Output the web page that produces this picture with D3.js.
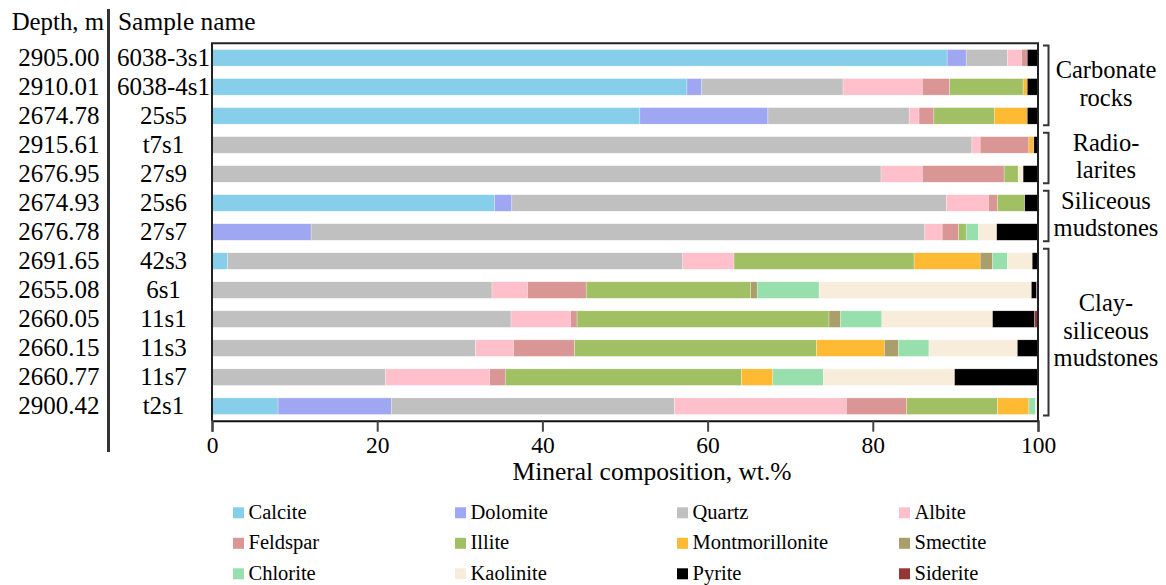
<!DOCTYPE html>
<html>
<head>
<meta charset="utf-8">
<script src="https://cdn.jsdelivr.net/npm/d3@7"></script>
<style>
  html, body { margin: 0; padding: 0; background: #fff; }
  svg { display: block; }
  svg text { font-family: "Liberation Serif", "Times New Roman", serif; fill: #000; }
</style>
</head>
<body>
<svg id="chart" width="1166" height="585"></svg>
<script>
// Samples, top to bottom
const samples = ["6038-3s1", "6038-4s1", "25s5", "t7s1", "27s9", "25s6", "27s7",
                 "42s3", "6s1", "11s1", "11s3", "11s7", "t2s1"];
const depths = ["2905.00", "2910.01", "2674.78", "2915.61", "2676.95", "2674.93", "2676.78",
                "2691.65", "2655.08", "2660.05", "2660.15", "2660.77", "2900.42"];

// Mineral composition, wt.% (one value per sample, same order as above)
const calcite         = [89.0, 57.5, 51.8, 0, 0, 34.2, 0, 1.9, 0, 0, 0, 0, 8.0];
const dolomite        = [2.3, 1.8, 15.5, 0, 0, 2.1, 12.0, 0, 0, 0, 0, 0, 13.7];
const quartz          = [5.0, 17.1, 17.1, 92.0, 81.0, 52.6, 74.3, 55.1, 33.9, 36.2, 31.9, 21.0, 34.3];
const albite          = [1.7, 9.6, 1.2, 1.0, 5.0, 5.1, 2.1, 6.2, 4.3, 7.2, 4.6, 12.6, 20.8];
const feldspar        = [0.7, 3.3, 1.8, 5.9, 9.9, 1.1, 2.0, 0, 7.1, 0.8, 7.4, 1.9, 7.3];
const illite          = [0, 8.9, 7.3, 0, 1.7, 3.3, 0.9, 21.8, 19.9, 30.5, 29.3, 28.6, 11.0];
const montmorillonite = [0, 0.5, 4.0, 0.6, 0, 0, 0, 8.0, 0, 0, 8.2, 3.8, 3.8];
const smectite        = [0, 0, 0, 0, 0, 0, 0, 1.5, 0.8, 1.4, 1.7, 0, 0];
const chlorite        = [0, 0, 0, 0, 0, 0, 1.5, 1.8, 7.5, 5.0, 3.7, 6.1, 0.8];
const kaolinite       = [0, 0, 0, 0, 0.6, 0, 2.2, 3.0, 25.7, 13.4, 10.7, 15.9, 0.3];
const pyrite          = [1.3, 1.3, 1.3, 0.5, 1.8, 1.6, 5.0, 0.7, 0.6, 5.1, 2.5, 10.1, 0];
const siderite        = [0, 0, 0, 0, 0, 0, 0, 0, 0.2, 0.4, 0, 0, 0];

const minerals = ["Calcite", "Dolomite", "Quartz", "Albite", "Feldspar", "Illite",
                  "Montmorillonite", "Smectite", "Chlorite", "Kaolinite", "Pyrite", "Siderite"];
const mineralValues = [calcite, dolomite, quartz, albite, feldspar, illite,
                       montmorillonite, smectite, chlorite, kaolinite, pyrite, siderite];
const mineralColors = ["#87ceeb", "#9fa6f2", "#c0c0c0", "#ffc0cb", "#da9694", "#a1c064",
                       "#ffba33", "#aa9e6b", "#98dfae", "#f8eddb", "#000000", "#943634"];

// Rock groups: label lines, first and last sample index
const groupLabels = [["Carbonate", "rocks"], ["Radio-", "larites"], ["Siliceous", "mudstones"],
                     ["Clay-", "siliceous", "mudstones"]];
const groupStart = [0, 3, 5, 7];
const groupEnd   = [2, 4, 6, 12];

const xTicks = [0, 20, 40, 60, 80, 100];

// ---- table for d3.stack ----
const table = samples.map((s, i) => {
  const row = { sample: s };
  minerals.forEach((m, k) => { row[m] = mineralValues[k][i]; });
  return row;
});
const series = d3.stack().keys(minerals)(table);

// ---- layout ----
const svg = d3.select("#chart");
const plotL = 212, plotR = 1038, plotT = 43.3, plotB = 420.7;

const x = d3.scaleLinear().domain([0, 100]).range([plotL, plotR]);
const y = d3.scaleBand().domain(samples).range([plotT, plotB]).paddingInner(0.43).paddingOuter(0.215);
const color = d3.scaleOrdinal().domain(minerals).range(mineralColors);

// bars
svg.append("g")
  .selectAll("g")
  .data(series)
  .join("g")
  .attr("fill", d => color(d.key))
  .selectAll("rect")
  .data(d => d.filter(p => p[1] - p[0] > 0))
  .join("rect")
  .attr("x", d => x(d[0]))
  .attr("y", d => y(d.data.sample))
  .attr("width", d => x(d[1]) - x(d[0]))
  .attr("height", y.bandwidth())
  .attr("stroke", "#ffffff")
  .attr("stroke-opacity", 0.55)
  .attr("stroke-width", 0.5);

// frame: top, left and right borders
svg.append("path")
  .attr("d", `M${plotL},${plotB} V${plotT} H${plotR} V${plotB}`)
  .attr("fill", "none")
  .attr("stroke", "#222")
  .attr("stroke-width", 2);

// x axis
const xAxis = svg.append("g")
  .attr("transform", `translate(0,${plotB})`)
  .call(d3.axisBottom(x).tickValues(xTicks).tickSize(11).tickPadding(5).tickFormat(d3.format("d")));
xAxis.select(".domain").attr("stroke", "#111").attr("stroke-width", 2);
xAxis.selectAll(".tick line").attr("stroke", "#444").attr("stroke-width", 2);
xAxis.selectAll(".tick text").style("font-size", "23.5px");

svg.append("text")
  .attr("x", 652)
  .attr("y", 480)
  .attr("text-anchor", "middle")
  .style("font-size", "25.5px")
  .text("Mineral composition, wt.%");

// left columns: headers, separator, depth and sample labels
svg.append("text").attr("x", 104).attr("y", 30).attr("text-anchor", "end")
  .style("font-size", "24.8px").text("Depth, m");
svg.append("text").attr("x", 118).attr("y", 30).attr("text-anchor", "start")
  .style("font-size", "25.4px").text("Sample name");
svg.append("line")
  .attr("x1", 108.5).attr("x2", 108.5).attr("y1", 9).attr("y2", 452)
  .attr("stroke", "#333").attr("stroke-width", 3);

svg.append("g").selectAll("text")
  .data(samples)
  .join("text")
  .attr("x", 99.5)
  .attr("y", d => y(d) + y.bandwidth() / 2 + 8)
  .attr("text-anchor", "end")
  .style("font-size", "25px")
  .text((d, i) => depths[i]);

svg.append("g").selectAll("text")
  .data(samples)
  .join("text")
  .attr("x", 163.5)
  .attr("y", d => y(d) + y.bandwidth() / 2 + 8)
  .attr("text-anchor", "middle")
  .style("font-size", "25px")
  .text(d => d);

// group brackets and labels on the right
const brX = 1048.5, brTick = 5.5, lineH = 27.5;
groupLabels.forEach((lines, g) => {
  const top = y(samples[groupStart[g]]) - 4;
  const bot = y(samples[groupEnd[g]]) + y.bandwidth() + 1;
  svg.append("path")
    .attr("d", `M${brX - brTick},${top} H${brX} V${bot} H${brX - brTick}`)
    .attr("fill", "none")
    .attr("stroke", "#333")
    .attr("stroke-width", 2);
  const mid = (top + bot) / 2;
  svg.append("g").selectAll("text")
    .data(lines)
    .join("text")
    .attr("x", 1106)
    .attr("y", (d, i) => mid - (lines.length - 1) / 2 * lineH + i * lineH + 6.5)
    .attr("text-anchor", "middle")
    .style("font-size", "24.5px")
    .text(d => d);
});

// legend: 4 columns x 3 rows
const legend = svg.append("g");
minerals.forEach((m, k) => {
  const col = k % 4, row = Math.floor(k / 4);
  const lx = 233 + col * 222, ly = 507.3 + row * 30.5;
  legend.append("rect")
    .attr("x", lx).attr("y", ly).attr("width", 11).attr("height", 11)
    .attr("fill", color(m));
  legend.append("text")
    .attr("x", lx + 15.5).attr("y", ly + 11.5)
    .style("font-size", "20.5px")
    .text(m);
});
</script>
</body>
</html>
